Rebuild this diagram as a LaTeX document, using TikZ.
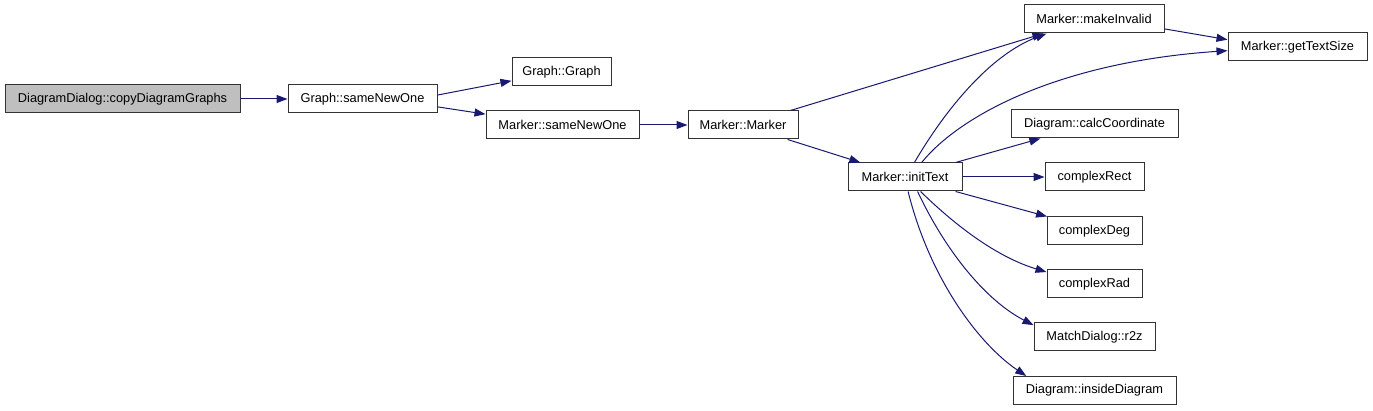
\documentclass[tikz,border=0pt]{standalone}
\usepackage{fontspec}
\setmainfont{Liberation Sans}
\usetikzlibrary{arrows.meta}
\definecolor{edgeblue}{HTML}{191970}
\definecolor{boxgray}{HTML}{BFBFBF}
\definecolor{boxline}{HTML}{333333}
\tikzset{
  fn/.style={draw=boxline, line width=1pt, fill=white, minimum height=28pt, inner sep=0pt,
    font=\fontsize{12.8}{15}\selectfont, text=black},
  cur/.style={fn, fill=boxgray},
  call/.style={draw=edgeblue, line width=1pt, -{Triangle[length=11pt,width=8pt]}}
}
\begin{document}
\begin{tikzpicture}[x=1pt, y=-1pt]
\useasboundingbox (0,0) rectangle (1373,411);
\node[cur, minimum width=235pt] (copy) at (122.5,99) {DiagramDialog::copyDiagramGraphs};
\node[fn, minimum width=149pt] (gsame) at (362.5,99) {Graph::sameNewOne};
\node[fn, minimum width=99pt] (ggraph) at (561.5,72) {Graph::Graph};
\node[fn, minimum width=153pt] (msame) at (562.5,125) {Marker::sameNewOne};
\node[fn, minimum width=110pt] (mmarker) at (743,125) {Marker::Marker};
\node[fn, minimum width=114pt] (init) at (905,177) {Marker::initText};
\node[fn, minimum width=140pt] (mi) at (1094,19) {Marker::makeInvalid};
\node[fn, minimum width=139pt] (gts) at (1297.5,47) {Marker::getTextSize};
\node[fn, minimum width=167pt] (calc) at (1094.5,124) {Diagram::calcCoordinate};
\node[fn, minimum width=99pt] (crect) at (1094.5,177) {complexRect};
\node[fn, minimum width=95pt] (cdeg) at (1094.5,231) {complexDeg};
\node[fn, minimum width=95pt] (crad) at (1094.5,284) {complexRad};
\node[fn, minimum width=121pt] (r2z) at (1094.5,337) {MatchDialog::r2z};
\node[fn, minimum width=163pt] (ins) at (1094.5,390.5) {Diagram::insideDiagram};

\draw[call] (copy.east) -- (gsame.west);
\draw[call] (gsame.3) -- (ggraph.190);
\draw[call] (gsame.-6) -- (msame.172);
\draw[call] (msame.east) -- (mmarker.west);
\draw[call] (mmarker.17) -- (mi.196);
\draw[call] (mmarker.-18) -- (init.162);
\draw[call] (mi.-8) -- (gts.174);
\draw[call] (init.57) .. controls (945,110) and (990,55) .. (mi.197);
\draw[call] (init.41) .. controls (960,115) and (1060,62) .. (gts.183);
\draw[call] (init.16) -- (calc.195);
\draw[call] (init.east) -- (crect.west);
\draw[call] (init.-16) -- (cdeg.163);
\draw[call] (init.-43) .. controls (960,230) and (1000,258) .. (crad.166);
\draw[call] (init.-49) .. controls (945,250) and (985,300) .. (r2z.169);
\draw[call] (init.-78) .. controls (930,280) and (980,345) .. (ins.168);
\end{tikzpicture}
\end{document}
